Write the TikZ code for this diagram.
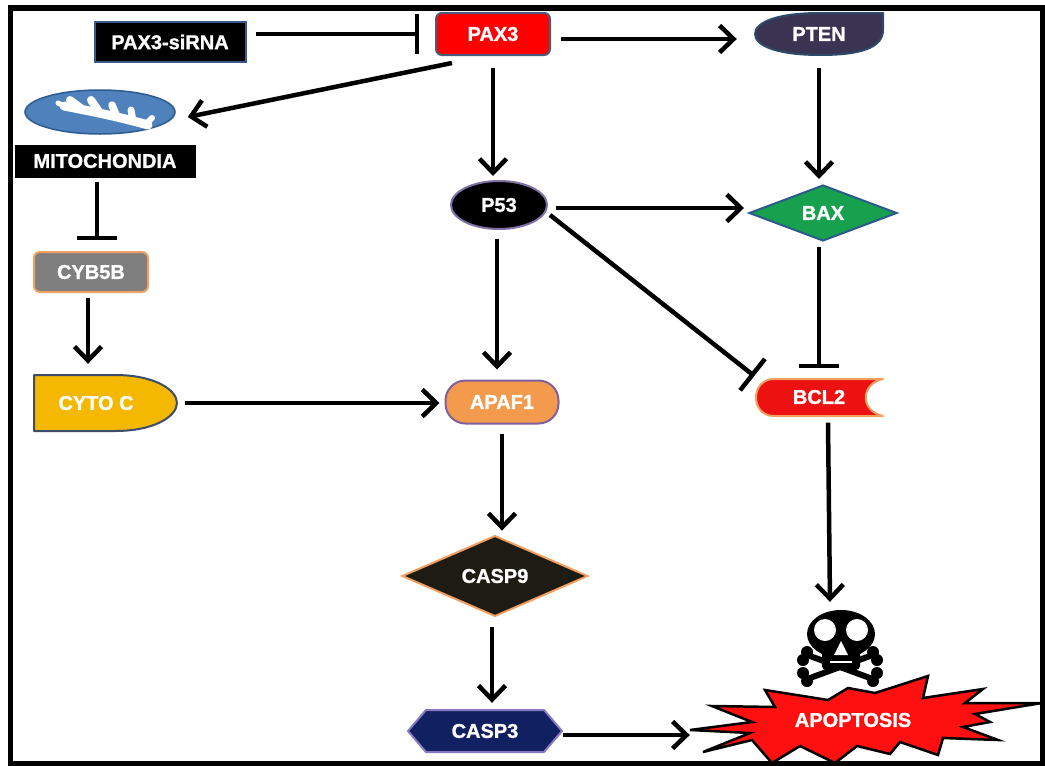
\documentclass[tikz,border=0pt]{standalone}
\usepackage{fontspec}
\setmainfont{Liberation Sans}[BoldFeatures={FakeBold=1.2}]
\usetikzlibrary{arrows.meta,shapes.geometric,calc}

\definecolor{sirnaedge}{HTML}{3A5A8A}
\definecolor{paxred}{HTML}{FF0000}
\definecolor{paxedge}{HTML}{4A5A7A}
\definecolor{ptenfill}{HTML}{3B3352}
\definecolor{ptenedge}{HTML}{2E4A6A}
\definecolor{mitofill}{HTML}{4F81BD}
\definecolor{mitoedge}{HTML}{2F5A8F}
\definecolor{cybfill}{HTML}{7F7F7F}
\definecolor{orangeedge}{HTML}{F0A060}
\definecolor{cytofill}{HTML}{F5B800}
\definecolor{cytoedge}{HTML}{3D4D6B}
\definecolor{p53edge}{HTML}{8070A8}
\definecolor{baxfill}{HTML}{17A04E}
\definecolor{baxedge}{HTML}{2E5A8A}
\definecolor{apaffill}{HTML}{F49A4C}
\definecolor{apafedge}{HTML}{8060A0}
\definecolor{bclfill}{HTML}{EE1111}
\definecolor{casp9fill}{HTML}{1E1B12}
\definecolor{casp3fill}{HTML}{102060}
\definecolor{casp3edge}{HTML}{8878C0}
\definecolor{apopred}{HTML}{FF1010}

\begin{document}
\begin{tikzpicture}[x=1pt,y=-1pt,
  lbl/.style={font=\bfseries\fontsize{20}{22}\selectfont, text=white, inner sep=0pt},
  box/.style={lbl, line width=2pt},
  act/.style={line width=4.5pt, -{Straight Barb[length=14pt,width=27pt]}},
  inh/.style={line width=4.5pt, -{Bar[width=40pt]}},
  shapeedge/.style={line width=2pt, line join=round},
]
\useasboundingbox (0,0) rectangle (1045,766);
\fill[white] (0,0) rectangle (1045,766);

% ---------- custom outlines ----------
% PTEN
\filldraw[shapeedge, fill=ptenfill, draw=ptenedge]
  (820,13) -- (883,13) -- (883,30) .. controls (883,48) and (860,55) .. (820,55)
  .. controls (778,55) and (755,46) .. (755,34)
  .. controls (755,22) and (778,13) .. (820,13) -- cycle;
% CYTO C
\filldraw[shapeedge, fill=cytofill, draw=cytoedge]
  (34,375) -- (115,375) .. controls (155,375) and (177,390) .. (177,403)
  .. controls (177,416) and (155,431) .. (115,431) -- (34,431) -- cycle;
% BCL2
\filldraw[shapeedge, fill=bclfill, draw=orangeedge]
  (774,379) -- (883,379) .. controls (860,384) and (860,411) .. (883,416)
  -- (774,416) .. controls (750,416) and (750,379) .. (774,379) -- cycle;
% CASP3
\filldraw[shapeedge, fill=casp3fill, draw=casp3edge]
  (408,731) -- (426,710) -- (544,710) -- (562,731) -- (544,752) -- (426,752) -- cycle;
% APOPTOSIS burst
\filldraw[line width=2.5pt, line join=miter, fill=apopred, draw=black]
  (690,730) -- (752,722) -- (712,706) -- (775,707) -- (765,690) -- (828,700)
  -- (848,688) -- (875,693) -- (928,676) -- (923,698) -- (983,689) -- (965,703)
  -- (1042,703) -- (975,714) -- (990,722) -- (963,727) -- (998,740) -- (943,738)
  -- (938,755) -- (900,742) -- (890,754) -- (857,746) -- (835,763) -- (800,746)
  -- (772,763) -- (752,740) -- (703,752) -- (750,733) -- cycle;

% ---------- nodes ----------
\node[box, fill=black, draw=sirnaedge, minimum width=151pt, minimum height=40pt] (sirna) at (170,42) {PAX3-siRNA};
\node[box, fill=paxred, draw=paxedge, rounded corners=6pt, minimum width=114pt, minimum height=42pt] (pax3) at (493,34) {PAX3};
\node[lbl, minimum width=128pt, minimum height=43pt] (pten) at (819,34) {PTEN};
\node[ellipse, fill=mitofill, draw=mitoedge, line width=1.5pt, minimum width=150pt, minimum height=44pt] (mito) at (100,112) {};
\node[box, fill=black, minimum width=181pt, minimum height=33pt] (mitolbl) at (105,161) {MITOCHONDIA};
\node[box, fill=cybfill, draw=orangeedge, rounded corners=6pt, minimum width=114pt, minimum height=40pt] (cyb5b) at (91,272) {CYB5B};
\node[lbl, minimum width=143pt, minimum height=56pt] (cytoc) at (96,403) {CYTO C};
\node[box, ellipse, fill=black, draw=p53edge, minimum width=96pt, minimum height=48pt] (p53) at (499,205) {P53};
\node[box, diamond, fill=baxfill, draw=baxedge, minimum width=148pt, minimum height=52pt] (bax) at (823,213) {BAX};
\node[box, fill=apaffill, draw=apafedge, rounded corners=20pt, minimum width=113pt, minimum height=43pt] (apaf1) at (502,402) {APAF1};
\node[lbl, minimum width=127pt, minimum height=37pt] (bcl2) at (819,397) {BCL2};
\node[box, diamond, fill=casp9fill, draw=orangeedge, minimum width=186pt, minimum height=64pt] (casp9) at (495,576) {CASP9};
\node[lbl, minimum width=154pt, minimum height=42pt] (casp3) at (485,731) {CASP3};
\node[minimum width=80pt, minimum height=72pt, inner sep=0pt] (skull) at (840,648) {};
\node[lbl, minimum width=330pt, minimum height=80pt] (apop) at (853,720) {APOPTOSIS};

% mitochondrial cristae: a spine with folds rising up and to the left
\begin{scope}[white, line cap=round, line join=round]
  \draw[line width=9pt] (64,106) .. controls (90,111) and (120,117) .. (148,125);
  \draw[line width=8pt] (82,109) -- (70,100);
  \draw[line width=8pt] (100,113) -- (91,100);
  \draw[line width=7.5pt] (117,117) -- (112,105);
  \draw[line width=7pt] (133,121) -- (131,110);
  \draw[line width=6pt] (146,124) -- (152,118);
  \draw[line width=5pt] (64,106) -- (58,103);
\end{scope}

% skull and crossbones
\begin{scope}
  \draw[line width=6pt, line cap=round] (810,656) -- (870,678) (870,656) -- (810,678);
  \foreach \p in {(807,652),(803,660),(873,652),(877,660),(807,681),(803,673),(873,681),(877,673)}
    \fill \p circle (6);
  \fill (841,634) ellipse [x radius=34, y radius=24];
  \fill[rounded corners=4pt] (822,645) rectangle (860,670);
  \fill[white] (825,630) circle (11) (857,630) circle (11);
  \fill[white] (841,641) -- (834,655) -- (848,655) -- cycle;
  \draw[white, line width=2pt] (830,662) -- (852,662);
\end{scope}

% ---------- connectors ----------
\draw[inh] ($(sirna.east)+(9,-8)$) -- ($(pax3.west)+(-16,0)$);
\draw[act] ($(pax3.east)+(10,5)$) -- ($(pten.west)+(-18,5)$);
\draw[act] ($(pax3.south)+(-41,7)$) -- ($(mito.east)+(12,5)$);
\draw[act] ($(pax3.south)+(0,12)$) -- ($(p53.north)+(-6,-4)$);
\draw[act] ($(pten.south)+(0,12)$) -- ($(bax.north)+(-4,-5)$);
\draw[act] ($(p53.east)+(8,3)$) -- ($(bax.west)+(-4,-5)$);
\draw[inh] ($(p53.east)+(2,10)$) -- ($(bcl2.west)+(-1,-21)$);
\draw[act] ($(p53.south)+(-2,9)$) -- ($(apaf1.north)+(-5,-10)$);
\draw[inh] ($(bax.south)+(-4,5)$) -- ($(bcl2.north)+(0,-10)$);
\draw[inh] ($(mitolbl.south)+(-8,3)$) -- ($(cyb5b.north)+(6,-11)$);
\draw[act] ($(cyb5b.south)+(-3,5)$) -- ($(cytoc.north)+(-8,-11)$);
\draw[act] ($(cytoc.east)+(17,0)$) -- ($(apaf1.west)+(-5,1)$);
\draw[act] ($(apaf1.south)+(0,9)$) -- ($(casp9.north)+(7,-4)$);
\draw[act] ($(casp9.south)+(-3,10)$) -- ($(casp3.north)+(7,-7)$);
\draw[act] ($(casp3.east)+(1,4)$) -- ($(apop.west)+(2,15)$);
\draw[act] ($(bcl2.south)+(9,7)$) -- ($(skull.north)+(-10,-10)$);

% frame
\draw[line width=5.5pt] (10.5,8) rectangle (1043,764);
\end{tikzpicture}
\end{document}
